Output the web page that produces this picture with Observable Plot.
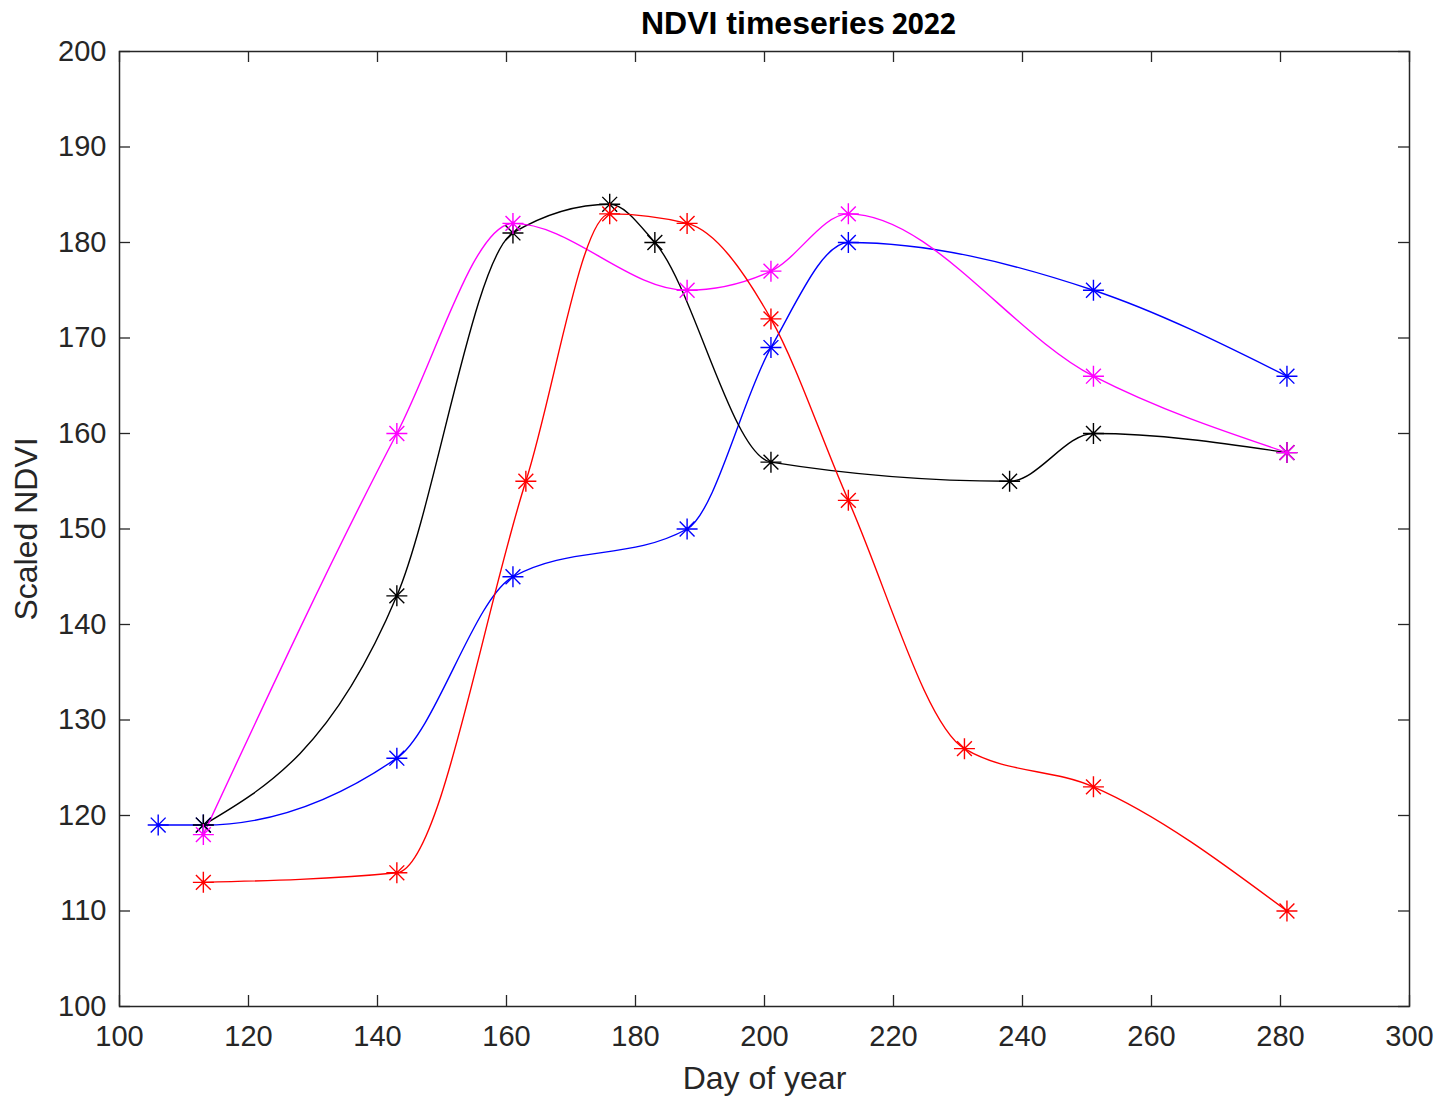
<!DOCTYPE html>
<html>
<head>
<meta charset="utf-8">
<script src="https://cdn.jsdelivr.net/npm/d3@7"></script>
<script src="https://cdn.jsdelivr.net/npm/@observablehq/plot@0.6"></script>
<style>
  html, body { margin: 0; padding: 0; background: #fff; }
  #wrap { position: relative; width: 1440px; height: 1100px; }
  #title { position: absolute; top: 4px; left: 641px; white-space: nowrap; font-weight: bold; color: #000; }
  #title .a { font-family: "Liberation Sans", Arial, sans-serif; font-size: 32px; }
  #title .b { font-family: "Open Sans", sans-serif; font-size: 28px; margin-left: 3px; }
  #chart { position: absolute; top: 0; left: 0; }
</style>
</head>
<body>
<div id="wrap">
  <div id="chart"></div>
  <div id="title"><span class="a">NDVI timeseries</span> <span class="b">2022</span></div>
</div>
<script>
// ---- data ----
const blueDays = [106, 113, 143, 161, 188, 201, 213, 251, 281];
const blueValues = [119, 119, 126, 145, 150, 169, 180, 175, 166];

const blackDays = [113, 143, 161, 176, 183, 201, 238, 251, 281];
const blackValues = [119, 143, 181, 184, 180, 157, 155, 160, 158];

const magentaDays = [113, 143, 161, 188, 201, 213, 251, 281];
const magentaValues = [118, 160, 182, 175, 177, 183, 166, 158];

const redDays = [113, 143, 163, 176, 188, 201, 213, 231, 251, 281];
const redValues = [113, 114, 155, 183, 182, 172, 153, 127, 123, 110];

const xTicks = [100, 120, 140, 160, 180, 200, 220, 240, 260, 280, 300];
const yTicks = [100, 110, 120, 130, 140, 150, 160, 170, 180, 190, 200];

const seriesList = [
  {name: "blue", color: "#0000ff", days: blueDays, values: blueValues},
  {name: "black", color: "#000000", days: blackDays, values: blackValues},
  {name: "magenta", color: "#ff00ff", days: magentaDays, values: magentaValues},
  {name: "red", color: "#ff0000", days: redDays, values: redValues}
];

const rows = seriesList.flatMap(s => s.days.map((d, i) => ({series: s.name, color: s.color, day: d, value: s.values[i]})));

// 8-armed asterisk like MATLAB's '*'
const asterisk8 = {
  draw(ctx, size) {
    const r = Math.sqrt(size / Math.PI);
    const d = r * Math.SQRT1_2;
    ctx.moveTo(-r, 0); ctx.lineTo(r, 0);
    ctx.moveTo(0, -r); ctx.lineTo(0, r);
    ctx.moveTo(-d, -d); ctx.lineTo(d, d);
    ctx.moveTo(-d, d); ctx.lineTo(d, -d);
  }
};

const W = 1440, H = 1100;
const mL = 119, mR = 31, mT = 51, mB = 94;
const innerH = H - mT - mB;
const innerW = W - mL - mR;
const tickLen = 11;
const axisColor = "#262626";
const font = "'Liberation Sans', Arial, sans-serif";

const plot = Plot.plot({
  width: W,
  height: H,
  marginLeft: mL,
  marginRight: mR,
  marginTop: mT,
  marginBottom: mB,
  style: {fontFamily: font, background: "#fff"},
  x: {domain: [100, 300], ticks: xTicks},
  y: {domain: [100, 200], ticks: yTicks},
  marks: [
    // inward ticks on all four sides
    Plot.ruleX(xTicks, {stroke: axisColor, strokeWidth: 1.3, insetTop: innerH - tickLen}),
    Plot.ruleX(xTicks, {stroke: axisColor, strokeWidth: 1.3, insetBottom: innerH - tickLen}),
    Plot.ruleY(yTicks, {stroke: axisColor, strokeWidth: 1.3, insetRight: innerW - tickLen}),
    Plot.ruleY(yTicks, {stroke: axisColor, strokeWidth: 1.3, insetLeft: innerW - tickLen}),
    Plot.axisX({ticks: xTicks, tickSize: 0, tickPadding: 19, fontSize: 29, color: axisColor, label: null, tickFormat: d => String(d)}),
    Plot.axisY({ticks: yTicks, tickSize: 0, tickPadding: 13, fontSize: 29, color: axisColor, label: null, tickFormat: d => String(d)}),
    Plot.frame({stroke: axisColor, strokeWidth: 1.5}),
    Plot.line(rows, {x: "day", y: "value", z: "series", stroke: "color", strokeWidth: 1.4, curve: "monotone-x"}),
    Plot.dot(rows, {x: "day", y: "value", symbol: asterisk8, r: 10.5, stroke: "color", fill: "none", strokeWidth: 1.4}),
    Plot.text(["Day of year"], {frameAnchor: "bottom", dy: 82, fontSize: 32, fill: axisColor, fontFamily: font}),
    Plot.text(["Scaled NDVI"], {frameAnchor: "left", textAnchor: "middle", dx: -93, rotate: -90, fontSize: 32, fill: axisColor, fontFamily: font})
  ]
});
document.getElementById("chart").appendChild(plot);
</script>
</body>
</html>
